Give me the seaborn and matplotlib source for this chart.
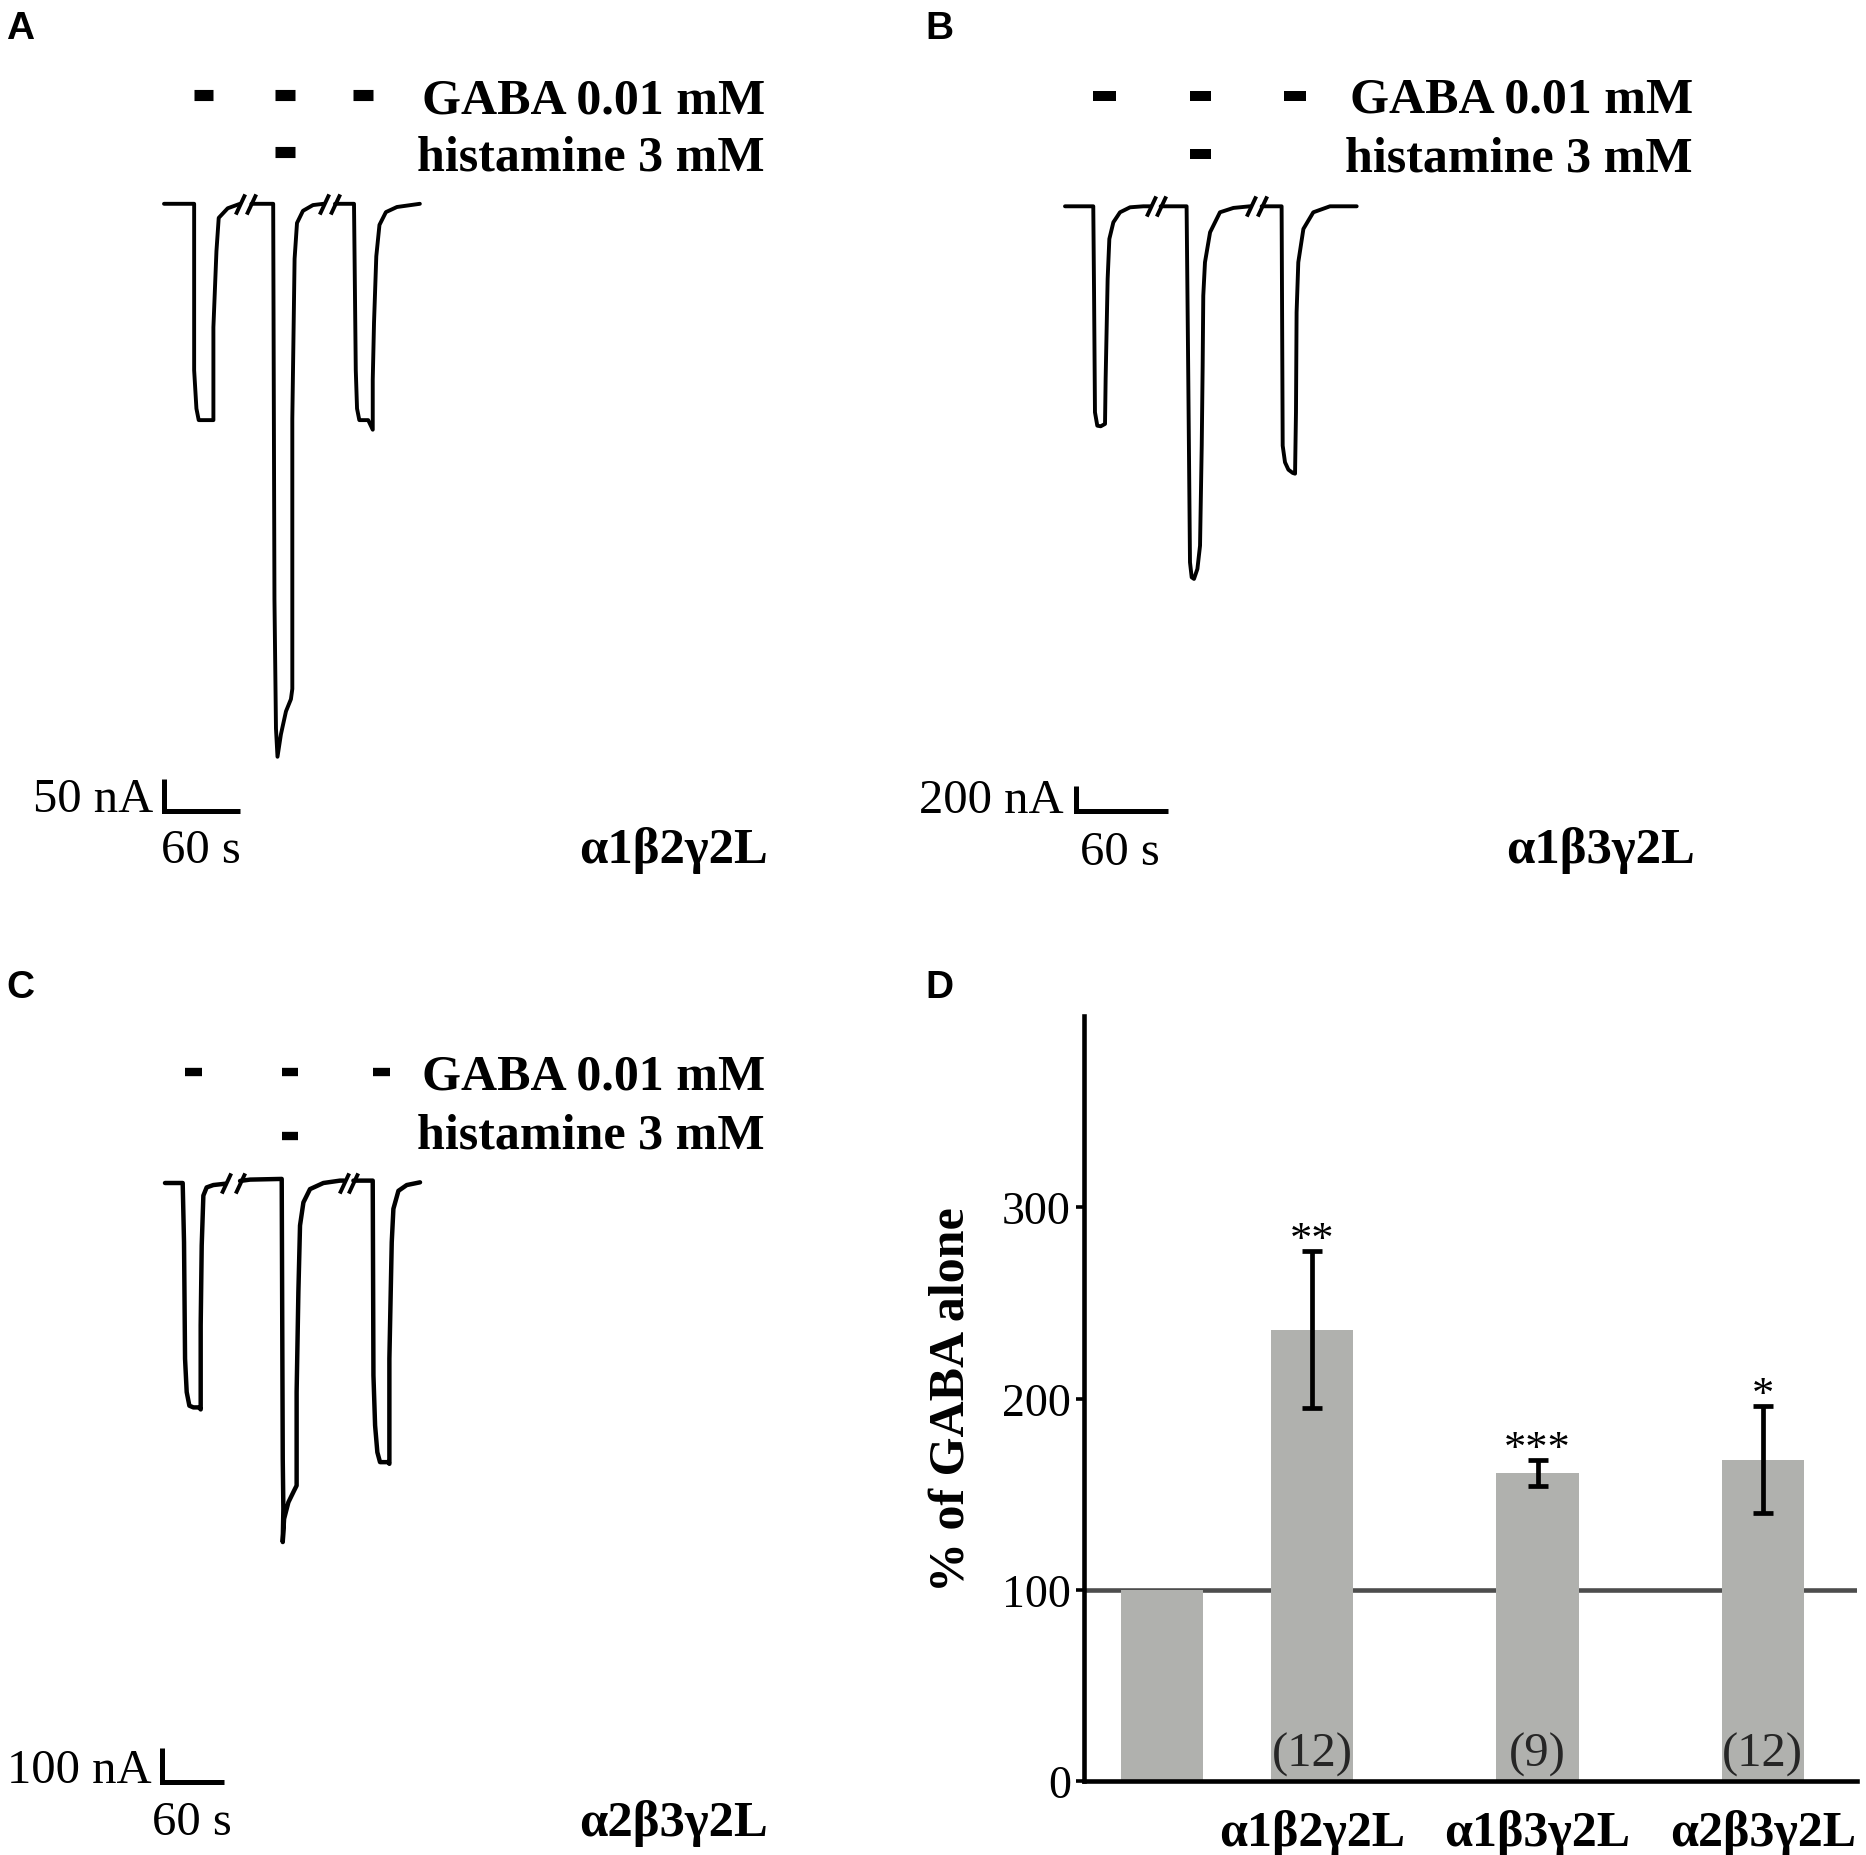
import numpy as np
import pandas as pd
import matplotlib
matplotlib.use("Agg")
import matplotlib.pyplot as plt
import seaborn as sns

# ------------------------------------------------------------------ data
# Panel A  (alpha1 beta2 gamma2L) current trace: time (s), current (nA), segment id
a_time = [0, 23.8, 23.8, 25.6, 27.4, 39.0, 39.0, 41.4, 43.2, 50.3, 60.0,
          69.0, 86.2, 87.2, 88.4, 89.6, 92.3, 96.3, 100.2, 101.3, 101.3, 103.1, 105.0, 109.7, 117.6, 126.0,
          135.0, 150.0, 151.4, 152.4, 154.2, 161.2, 164.8, 164.8, 165.8, 167.6, 170.1, 175.2, 183.9, 202.0]
a_curr = [0, 0, -260, -320, -338, -338, -193, -74, -22, -7, 0,
          0, 0, -618, -820, -864, -829, -793, -774, -758, -336, -86, -30, -11, -2, 0,
          0, 0, -260, -320, -338, -338, -353, -275, -186, -82, -33, -13, -5, 0]
a_seg = [0] * 11 + [1] * 15 + [2] * 14
a_breaks = [60.0, 69.0, 126.0, 135.0]
a_gaba_on = [23.8, 87.3, 148.9]
a_gaba_off = [39.0, 103.1, 164.8]
a_hist_on = [87.3]
a_hist_off = [103.1]
a_scale = (60, 50)          # s, nA

# Panel B  (alpha1 beta3 gamma2L)
b_time = [0, 18.3, 18.8, 19.4, 20.9, 23.1, 25.9, 26.3, 27.6, 28.7, 31.3, 35.6, 42.1, 50.7, 55.4,
          61.9, 78.7, 79.8, 80.9, 82.0, 83.5, 85.7, 87.4, 88.5, 89.1, 89.5, 90.6, 93.9, 100.3, 109.0, 119.7, 120.2,
          127.3, 140.2, 140.9, 142.4, 144.6, 147.4, 148.9, 149.5, 149.9, 151.0, 154.3, 160.7, 171.5, 188.8]
b_curr = [0, 0, -688, -1648, -1755, -1760, -1741, -1381, -581, -261, -128, -48, -8, 0, 0,
          0, 0, -1381, -2848, -2968, -2981, -2901, -2715, -1915, -1275, -715, -448, -208, -48, -13, 0, 0,
          0, 0, -1915, -2048, -2107, -2133, -2139, -1648, -848, -448, -181, -48, 0, 0]
b_seg = [0] * 15 + [1] * 17 + [2] * 14
b_breaks = [55.4, 61.9, 120.2, 127.3]
b_gaba_on = [18.1, 80.6, 141.7]
b_gaba_off = [33.0, 94.8, 155.9]
b_hist_on = [80.6]
b_hist_off = [94.8]
b_scale = (60, 200)

# Panel C  (alpha2 beta3 gamma2L)
c_time = [0, 17.2, 18.5, 19.5, 21.1, 23.7, 27.6, 33.4, 34.7, 34.7, 35.7, 37.3, 40.5, 47.0, 59.0,
          73.0, 82.7, 113.5, 114.5, 115.1, 114.5, 115.8, 120.0, 125.5, 128.0, 128.0, 129.7, 131.3, 134.6, 141.0, 154.0, 170.2, 174.1,
          183.2, 202.0, 202.7, 204.3, 206.5, 209.1, 217.2, 218.2, 218.2, 219.5, 220.5, 222.1, 227.0, 235.1, 248.0]
c_curr = [0, 0, -174, -517, -615, -655, -660, -660, -666, -419, -184, -37, -13, -6, -2,
          6, 10, 12, -811, -958, -1056, -988, -939, -905, -890, -615, -321, -125, -57, -18, 0, 7, 7,
          7, 7, -566, -713, -792, -821, -821, -826, -517, -321, -174, -76, -23, -6, 2]
c_seg = [0] * 15 + [1] * 18 + [2] * 15
c_breaks = [59.0, 73.0, 174.1, 183.2]
c_gaba_on = [19.4, 113.3, 202.5]
c_gaba_off = [36.2, 129.7, 218.8]
c_hist_on = [113.3]
c_hist_off = [129.7]
c_scale = (60, 100)

# Panel D  summary bars
d_groups = ["", "α1β2γ2L", "α1β3γ2L", "α2β3γ2L"]
d_means = [100, 236, 161, 168]
d_sem = [0, 41, 7, 28]
d_n = ["", "(12)", "(9)", "(12)"]
d_sig = ["", "**", "***", "*"]

# ------------------------------------------------------------------ style
sns.set_style("ticks")
plt.rcParams["font.family"] = ["Liberation Serif", "DejaVu Serif"]
for k in ["text.color", "axes.labelcolor", "xtick.color", "ytick.color", "axes.edgecolor"]:
    plt.rcParams[k] = "black"

W, H = 1866, 1856
fig = plt.figure(figsize=(W / 100, H / 100), dpi=100)

BIG = 36      # bold serif labels
REG = 35      # regular serif labels
TICK = 33     # y tick labels


def ftext(px, py, s, **kw):
    fig.text(px / W, 1 - py / H, s, **kw)


def trace_panel(box, lay, t, cur, seg, breaks, g_on, g_off, h_on, h_off, scale,
                corner, gaba_py, hist_py, bar_lw, trace_lw):
    L, T, R, B = box
    x0, y0, sx, sy = lay
    ax = fig.add_axes([L / W, 1 - B / H, (R - L) / W, (B - T) / H])
    df = pd.DataFrame({"t": t, "I": cur, "seg": seg})
    sns.lineplot(data=df, x="t", y="I", units="seg", estimator=None, sort=False,
                 color="black", linewidth=trace_lw, ax=ax, legend=False)
    # axis breaks
    ax.plot(breaks, np.zeros(len(breaks)), ls="none", marker=(2, 0, -25),
            ms=16, mew=2.8, color="black")
    # application bars
    gy = (y0 - gaba_py) / sy
    hy = (y0 - hist_py) / sy
    ax.hlines([gy] * len(g_on), g_on, g_off, color="black", lw=bar_lw, capstyle="butt")
    ax.hlines([hy] * len(h_on), h_on, h_off, color="black", lw=bar_lw, capstyle="butt")
    # scale bar
    cx = (corner[0] - x0) / sx
    cy = (y0 - corner[1]) / sy
    ax.plot([cx, cx, cx + scale[0]], [cy + scale[1], cy, cy], color="black", lw=3.6,
            solid_joinstyle="miter", solid_capstyle="butt")
    ax.set_xlim((L - x0) / sx, (R - x0) / sx)
    ax.set_ylim((y0 - B) / sy, (y0 - T) / sy)
    ax.set_axis_off()
    return ax


# Panel A
trace_panel((0, 0, 933, 928), (164, 204.8, 76 / 60, 32 / 50), a_time, a_curr, a_seg, a_breaks,
            a_gaba_on, a_gaba_off, a_hist_on, a_hist_off, a_scale,
            (164, 812), 96, 153, 8.0, 2.8)
# Panel B
trace_panel((933, 0, 1866, 928), (1065, 207.3, 92.7 / 60, 25 / 200), b_time, b_curr, b_seg, b_breaks,
            b_gaba_on, b_gaba_off, b_hist_on, b_hist_off, b_scale,
            (1075.5, 811.7), 96.7, 155, 7.2, 2.8)
# Panel C
trace_panel((0, 928, 933, 1856), (165, 1184, 61.7 / 60, 34 / 100), c_time, c_curr, c_seg, c_breaks,
            c_gaba_on, c_gaba_off, c_hist_on, c_hist_off, c_scale,
            (162.3, 1783.3), 1073.3, 1136.7, 6.0, 3.2)

# texts of trace panels
for (gx, gb, hb) in [(765, 113, 170.5), (1692.8, 112.7, 171.7), (765, 1090, 1148.3)]:
    ftext(gx, gb, "GABA 0.01 mM", ha="right", va="baseline", fontsize=BIG, fontweight="bold")
    ftext(gx, hb, "histamine 3 mM", ha="right", va="baseline", fontsize=BIG, fontweight="bold")

for (nx, nb, sxp, sb, scale) in [(153, 811.7, 200.5, 863.3, a_scale),
                                  (1063.3, 813.3, 1120, 865, b_scale),
                                  (151.7, 1783.3, 192.3, 1835, c_scale)]:
    ftext(nx, nb, f"{scale[1]} nA", ha="right", va="baseline", fontsize=REG)
    ftext(sxp, sb, f"{scale[0]} s", ha="center", va="baseline", fontsize=REG)

ftext(768, 863, d_groups[1], ha="right", va="baseline", fontsize=BIG + 0.5, fontweight="bold")
ftext(1695, 863, d_groups[2], ha="right", va="baseline", fontsize=BIG + 0.5, fontweight="bold")
ftext(768, 1836, d_groups[3], ha="right", va="baseline", fontsize=BIG + 0.5, fontweight="bold")

# panel letters
for (lab, px, py) in [("A", 6, 11), ("B", 925, 11), ("C", 6, 970), ("D", 925, 970)]:
    ftext(px, py, lab, ha="left", va="top", fontsize=28, fontweight="bold",
          family=["Liberation Sans", "DejaVu Sans"])

# ------------------------------------------------------------------ Panel D
D_POS = [0, 2, 5, 8]
AX_L, AX_R = 1084, 1857
axd = fig.add_axes([AX_L / W, 1 - 1782 / H, (AX_R - AX_L) / W, (1782 - 1017) / H])
dfd = pd.DataFrame({"pos": D_POS, "val": d_means})
axd.axhline(100, color="#4d4d4d", lw=3.3, zorder=0.8)
sns.barplot(data=dfd, x="pos", y="val", native_scale=True, color="#b0b1ae", saturation=1,
            width=0.546, errorbar=None, linewidth=0, ax=axd, zorder=1)
axd.errorbar(D_POS[1:], d_means[1:], yerr=d_sem[1:], fmt="none", ecolor="black",
             elinewidth=3.4, capsize=7.5, capthick=3.4, zorder=3)
for p, m, s, sig, n in zip(D_POS, d_means, d_sem, d_sig, d_n):
    if sig:
        axd.text(p, m + s, sig, ha="center", va="baseline", fontsize=32)
    if n:
        axd.text(p, 8, n, ha="center", va="baseline", fontsize=REG, color="#262626")

axd.set_xlim((AX_L - 1162) / 75.1, (AX_R - 1162) / 75.1)
axd.set_ylim(0, 400)
axd.set_yticks([0, 100, 200, 300])
axd.set_xticks(D_POS[1:])
axd.set_xticklabels(d_groups[1:], fontsize=BIG, fontweight="bold")
axd.tick_params(axis="x", length=0, pad=20)
axd.tick_params(axis="y", length=5.5, width=2.6, pad=4, labelsize=TICK)
for side in ["top", "right"]:
    axd.spines[side].set_visible(False)
for side in ["left", "bottom"]:
    axd.spines[side].set_linewidth(3.3)
    axd.spines[side].set_color("black")
axd.set_xlabel("")
axd.set_ylabel("% of GABA alone", fontsize=BIG, fontweight="bold")
axd.yaxis.set_label_coords((975 - AX_L) / (AX_R - AX_L), 0.5)

fig.savefig("out.png", dpi=100, facecolor="white")
